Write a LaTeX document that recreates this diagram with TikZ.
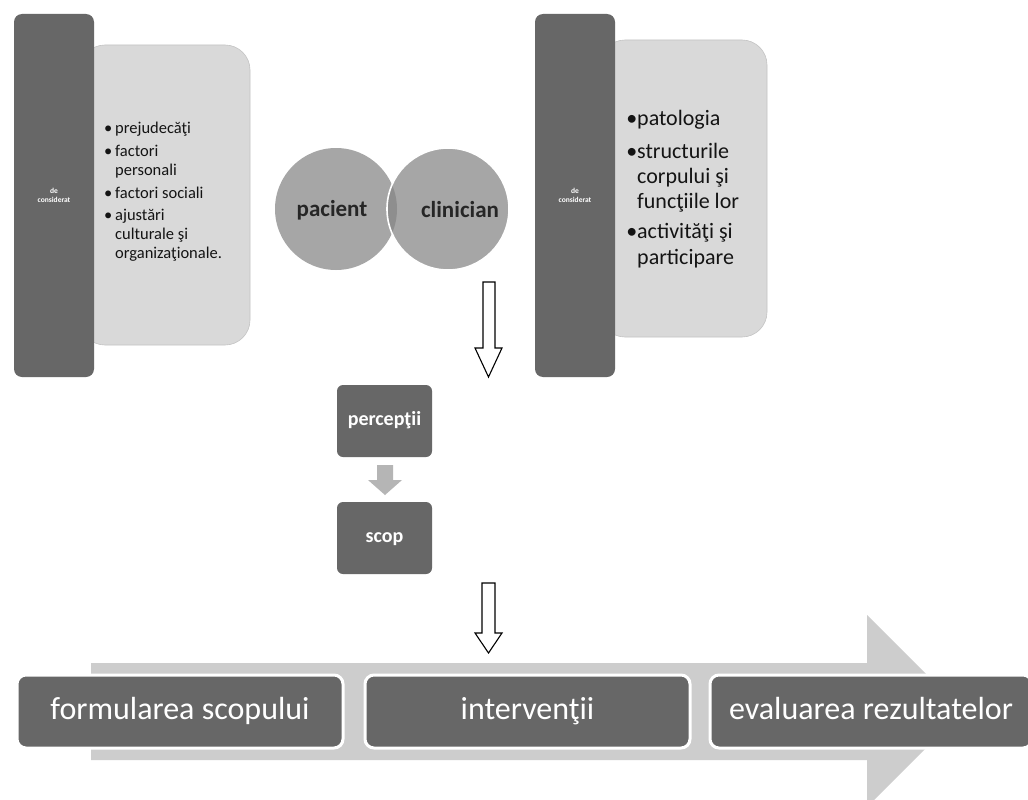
\documentclass[tikz,border=0pt]{standalone}
\usepackage{fontspec}
\setmainfont{Carlito}
\definecolor{darkbox}{HTML}{676767}
\definecolor{panelc}{HTML}{D9D9D9}
\definecolor{circc}{HTML}{A6A6A6}
\definecolor{lensc}{HTML}{8E8E8E}
\definecolor{bigarrow}{HTML}{CDCDCD}
\definecolor{smallarrow}{HTML}{B5B5B5}
\definecolor{txtc}{HTML}{141414}
\begin{document}
\begin{tikzpicture}[x=1pt,y=-1pt,
  bar/.style={rectangle, fill=darkbox, rounded corners=8pt, minimum width=80pt, minimum height=363pt, inner sep=0pt, text=white, align=center, font=\fontsize{7.5}{9}\selectfont\bfseries},
  panel/.style={rectangle, fill=panelc, draw=panelc!90!black, line width=0.6pt, rounded corners=25pt, inner sep=0pt},
  ltxt/.style={anchor=base west, inner sep=0pt, text=txtc, font=\fontsize{16.5}{19}\selectfont},
  rtxt/.style={anchor=base west, inner sep=0pt, text=txtc, font=\fontsize{22}{26}\selectfont},
  sbox/.style={rectangle, fill=darkbox, rounded corners=6pt, minimum width=95pt, minimum height=72pt, inner sep=0pt, text=white, text height=14pt, text depth=5pt, font=\fontsize{20}{24}\selectfont\bfseries},
  stage/.style={rectangle, fill=darkbox, draw=white, line width=3pt, rounded corners=9pt, minimum height=73pt, inner sep=0pt, text=white, text height=23pt, text depth=7pt, font=\fontsize{32}{36}\selectfont},
  hollow/.style={draw=black, fill=white, line width=1.1pt, line join=miter},
  ctxt/.style={inner sep=0pt, text=black!85, font=\fontsize{23}{27}\selectfont\bfseries}
]
\useasboundingbox (0,0) rectangle (1028,800);
\fill[white] (0,0) rectangle (1028,800);

% left group
\node[panel, minimum width=170pt, minimum height=300pt] (lpanel) at (165,195) {};
\node[bar] (lbar) at (54,195.5) {de\\considerat};
\node[ltxt] (l1) at (115,133) {\llap{•\,}prejudecăţi};
\node[ltxt] (l2) at (115,156) {\llap{•\,}factori};
\node[ltxt] (l3) at (115,175) {personali};
\node[ltxt] (l4) at (115,198) {\llap{•\,}factori sociali};
\node[ltxt] (l5) at (115,220) {\llap{•\,}ajustări};
\node[ltxt] (l6) at (115,239) {culturale şi};
\node[ltxt] (l7) at (115,258) {organizaţionale.};

% right group
\node[panel, minimum width=167pt, minimum height=297pt] (rpanel) at (683.5,188.5) {};
\node[bar] (rbar) at (575,195.5) {de\\considerat};
\node[rtxt] (r1) at (637,125) {\llap{•}patologia};
\node[rtxt] (r2) at (637,158) {\llap{•}structurile};
\node[rtxt] (r3) at (637,183) {corpului şi};
\node[rtxt] (r4) at (637,208) {funcţiile lor};
\node[rtxt] (r5) at (637,238) {\llap{•}activităţi şi};
\node[rtxt] (r6) at (637,264) {participare};

% venn
\fill[circc] (336,209) circle (61);
\fill[circc] (448,209) circle (61);
\begin{scope}
  \clip (336,209) circle (61);
  \fill[lensc] (448,209) circle (61);
\end{scope}
\draw[white, line width=1.6pt] (448,209) circle (61);
\node[ctxt] (pac) at (332,210) {pacient};
\node[ctxt] (cli) at (460,210) {clinician};

% hollow arrow 1
\draw[hollow] (483,282) -- (495,282) -- (495,348) -- (502,348) -- (488.5,377) -- (475,348) -- (483,348) -- cycle;

% perceptii / scop
\node[sbox] (perc) at (384.5,421) {percepţii};
\node[sbox] (scop) at (384.5,538) {scop};
\fill[smallarrow] (377,465) -- (393,465) -- (393,480) -- (402,480) -- (385,495) -- (368,480) -- (377,480) -- cycle;

% hollow arrow 2
\draw[hollow] (482,583) -- (495,583) -- (495,633) -- (502,633) -- (488.5,653) -- (475,633) -- (482,633) -- cycle;

% big process arrow
\fill[bigarrow] (91,663) -- (867,663) -- (867,615) -- (963,711) -- (867,807) -- (867,760) -- (91,760) -- cycle;

% stages
\node[stage, minimum width=326pt] (st1) at (180,711.5) {formularea scopului};
\node[stage, minimum width=325pt] (st2) at (527.5,711.5) {intervenţii};
\node[stage, minimum width=322pt] (st3) at (871,711.5) {evaluarea rezultatelor};
\end{tikzpicture}
\end{document}
